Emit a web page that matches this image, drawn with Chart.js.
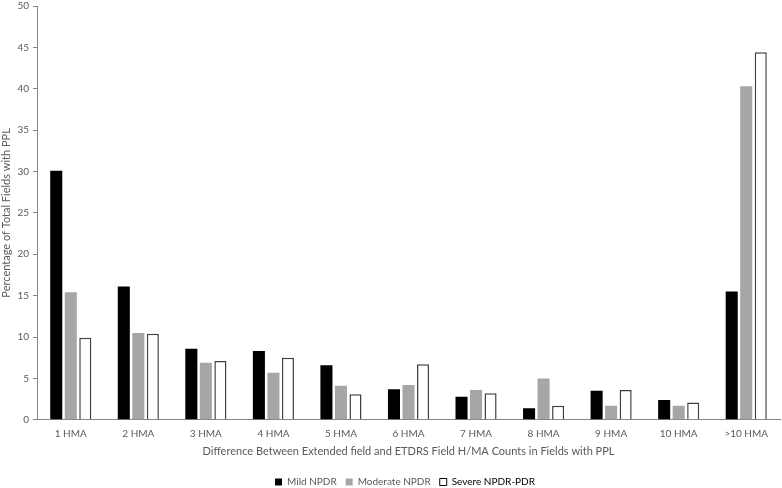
<!DOCTYPE html>
<html>
<head>
<meta charset="utf-8">
<script src="https://cdn.jsdelivr.net/npm/chart.js@4"></script>
<style>
    html, body { margin: 0; padding: 0; background: #fff; }
    #wrap { width: 782px; height: 488px; }
</style>
</head>
<body>
<div id="wrap"><canvas id="hmaChart"></canvas></div>
<script>
// data
const categories = ['1 HMA', '2 HMA', '3 HMA', '4 HMA', '5 HMA', '6 HMA', '7 HMA', '8 HMA', '9 HMA', '10 HMA', '>10 HMA'];
const mildNPDR     = [30.1, 16.1, 8.6, 8.3, 6.6, 3.7, 2.8, 1.4, 3.5, 2.4, 15.5];
const moderateNPDR = [15.4, 10.5, 6.9, 5.7, 4.1, 4.2, 3.6, 5.0, 1.7, 1.7, 40.3];
const severeNPDR   = [9.9, 10.4, 7.1, 7.5, 3.1, 6.7, 3.2, 1.7, 3.6, 2.1, 44.4];
const yTicks = [0, 5, 10, 15, 20, 25, 30, 35, 40, 45, 50];

const textGray = '#595959';
const axisGray = '#868686';
const fontFamily = 'Lato, "Open Sans", sans-serif';

// legend in the reference sits centred under the plot area, not the canvas
const shiftLegend = {
    id: 'shiftLegend',
    afterLayout(chart) {
        const lg = chart.legend;
        if (lg) {
            lg.left += 15;
            lg.right += 15;
        }
    }
};

document.addEventListener("DOMContentLoaded", () => {
    const ctx = document.getElementById('hmaChart').getContext('2d');

    new Chart(ctx, {
        type: 'bar',
        data: {
            labels: categories,
            datasets: [
                {
                    label: 'Mild NPDR',
                    data: mildNPDR,
                    backgroundColor: '#000000',
                    borderColor: '#000000',
                    borderWidth: 0
                },
                {
                    label: 'Moderate NPDR',
                    data: moderateNPDR,
                    backgroundColor: '#a6a6a6',
                    borderColor: '#a6a6a6',
                    borderWidth: 0
                },
                {
                    label: 'Severe NPDR-PDR',
                    data: severeNPDR,
                    backgroundColor: '#ffffff',
                    borderColor: '#404040',
                    borderWidth: 1.5,
                    borderSkipped: 'bottom'
                }
            ]
        },
        options: {
            responsive: true,
            maintainAspectRatio: false,
            animation: false,
            categoryPercentage: 0.645,
            barPercentage: 0.83,
            layout: { padding: { top: 0, right: 2, left: 0, bottom: -9 } },
            plugins: {
                legend: {
                    position: 'bottom',
                    labels: {
                        boxWidth: 7,
                        boxHeight: 7,
                        padding: 9,
                        color: textGray,
                        font: { family: fontFamily, size: 10 },
                        generateLabels: (chart) => chart.data.datasets.map((ds, i) => ({
                            text: ds.label,
                            fillStyle: ds.backgroundColor,
                            strokeStyle: i === 2 ? '#000000' : ds.backgroundColor,
                            lineWidth: i === 2 ? 1 : 0,
                            fontColor: i === 2 ? '#000000' : textGray,
                            hidden: false,
                            datasetIndex: i
                        }))
                    }
                },
                tooltip: { enabled: false }
            },
            scales: {
                x: {
                    grid: { display: false },
                    border: { display: true, color: axisGray, width: 1 },
                    ticks: { color: textGray, font: { family: fontFamily, size: 10 }, padding: 0, maxRotation: 0 },
                    title: {
                        display: true,
                        text: 'Difference Between Extended field and ETDRS Field H/MA Counts in Fields with PPL',
                        color: textGray,
                        font: { family: fontFamily, size: 11 },
                        padding: { top: 5, bottom: 10 }
                    }
                },
                y: {
                    min: 0,
                    max: 50,
                    afterBuildTicks: (scale) => { scale.ticks = yTicks.map(v => ({ value: v })); },
                    grid: { drawOnChartArea: false, drawTicks: true, tickLength: 4, color: axisGray },
                    border: { display: true, color: axisGray, width: 1 },
                    ticks: { color: textGray, font: { family: fontFamily, size: 10 }, padding: 4 },
                    title: {
                        display: true,
                        text: 'Percentage of Total Fields with PPL',
                        color: textGray,
                        font: { family: fontFamily, size: 11 },
                        padding: { top: 0, bottom: 2 }
                    },
                    afterFit: (scale) => {
                        scale.width = 37;
                        scale.paddingTop = 6;
                    }
                }
            }
        },
        plugins: [shiftLegend]
    });
});
</script>
</body>
</html>
